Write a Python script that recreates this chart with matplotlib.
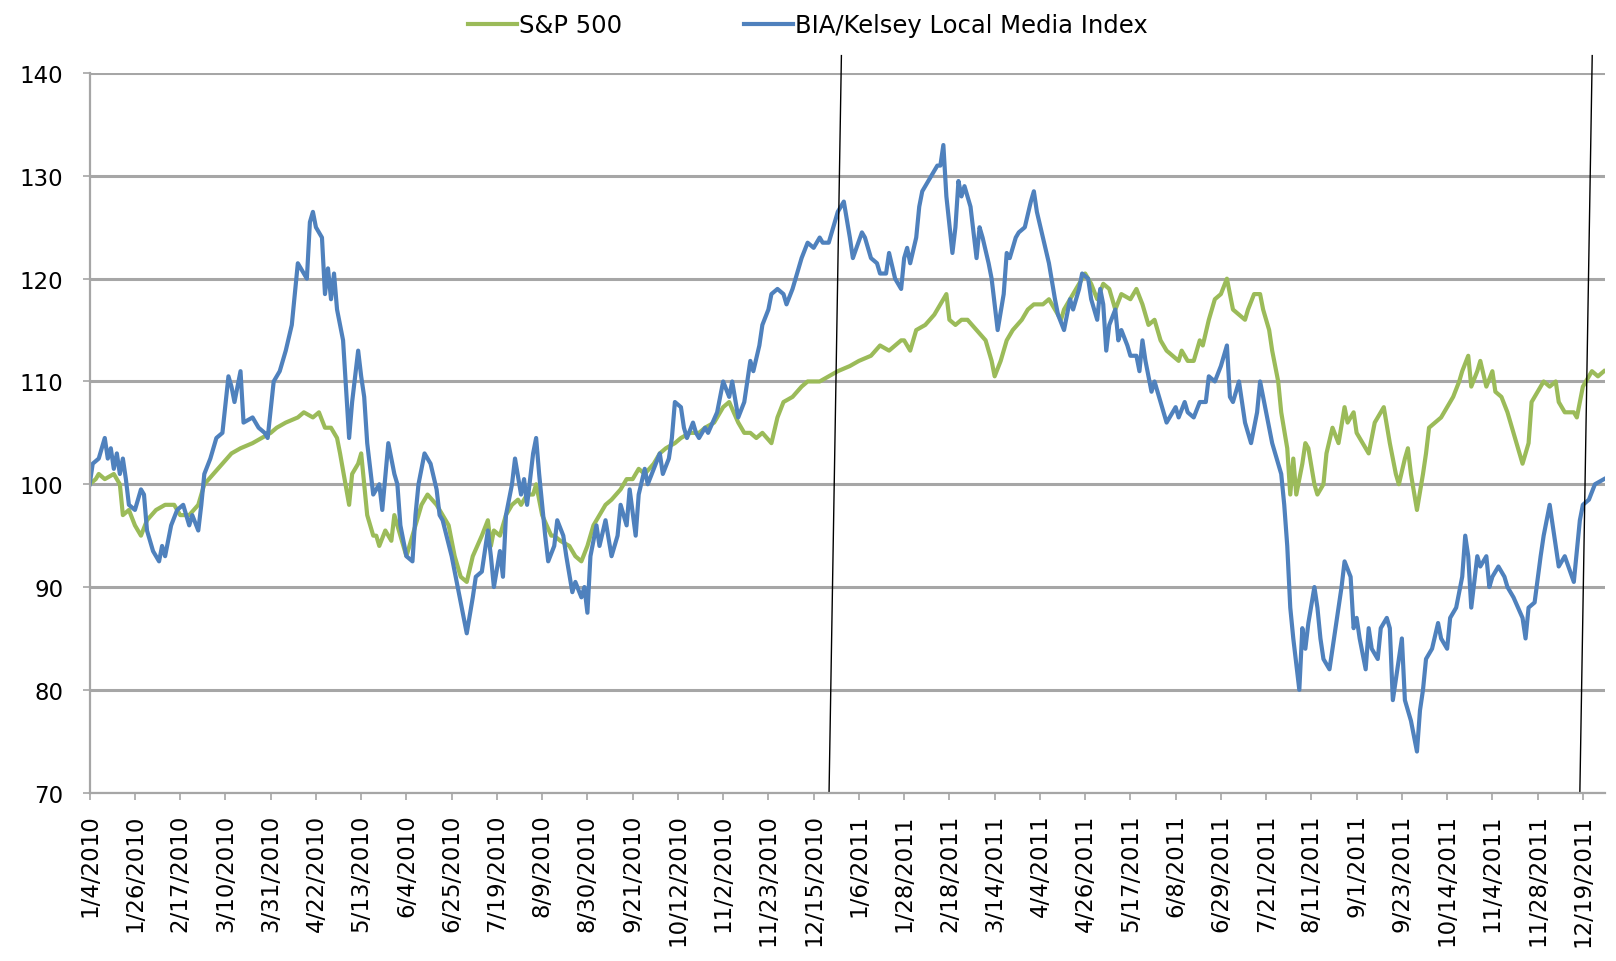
import numpy as np
import matplotlib.pyplot as plt

# trading-day index (0 = 1/4/2010) and index value
bia_day = [0, 1, 3, 5, 6, 7, 8, 9, 10, 11, 12, 13, 15, 17, 18, 19, 21, 23, 24, 25, 27, 29, 31, 33, 34, 36, 37, 38, 40, 42,
           44, 46, 47, 48, 50, 51, 54, 56, 58, 59, 61, 63, 65, 67, 69, 71, 72, 73, 74, 75, 77, 78, 79, 80, 81, 82, 84, 86,
           87, 89, 90, 91, 92, 93, 94, 96, 97, 99, 101, 102, 103, 105, 107, 108, 109, 111, 113, 115, 116, 117, 120, 122,
           124, 125, 127, 128, 130, 132, 133, 134, 136, 137, 138, 140, 141, 143, 144, 145, 147, 148, 149, 150, 151, 152,
           154, 155, 157, 158, 160, 161, 163, 164, 165, 166, 168, 169, 171, 173, 175, 176, 178, 179, 181, 182, 184, 185,
           187, 189, 190, 192, 193, 194, 196, 197, 198, 200, 201, 202, 204, 205, 208, 210, 212, 213, 215, 217, 219, 220,
           222, 223, 225, 226, 228, 230, 231, 233, 236, 238, 240, 242, 243, 245, 248, 250, 252, 253, 256, 257, 259, 261,
           262, 264, 265, 267, 269, 270, 271, 272, 274, 275, 276, 279, 281, 282, 283, 284, 286, 287, 288, 289, 290, 292,
           294, 295, 296, 298, 299, 301, 303, 304, 305, 307, 308, 310, 312, 313, 314, 316, 318, 320, 321, 323, 325, 326,
           328, 329, 331, 332, 334, 335, 336, 337, 338, 340, 341, 342, 344, 345, 347, 348, 349, 350, 352, 353, 355, 356,
           357, 360, 361, 363, 364, 366, 368, 370, 371, 373, 375, 377, 378, 379, 381, 383, 384, 385, 387, 388, 390, 392,
           394, 395, 396, 397, 398, 399, 401, 402, 403, 404, 406, 407, 408, 409, 411, 412, 413, 415, 416, 418, 419, 420,
           421, 423, 424, 425, 427, 428, 430, 431, 432, 434, 435, 436, 438, 440, 441, 442, 443, 445, 447, 448, 450, 451,
           453, 455, 456, 457, 458, 460, 461, 463, 464, 465, 467, 469, 470, 472, 475, 476, 477, 479, 481, 482, 484, 485,
           487, 489, 492, 494, 495, 497, 499, 502]
bia = [100, 102, 102.5, 104.5, 102.5, 103.5, 101.5, 103, 101, 102.5, 100.5, 98, 97.5, 99.5, 99, 95.5, 93.5, 92.5, 94, 93,
       96, 97.5, 98, 96, 97, 95.5, 98, 101, 102.5, 104.5,
       105, 110.5, 109.5, 108, 111, 106, 106.5, 105.5, 105, 104.5, 110, 111, 113, 115.5, 121.5, 120.5, 120, 125.5, 126.5,
       125, 124, 118.5, 121, 118, 120.5, 117, 114, 104.5,
       108, 113, 110.5, 108.5, 104, 101.5, 99, 100, 97.5, 104, 101, 100, 96, 93, 92.5, 97, 100, 103, 102, 99.5, 97, 96.5,
       93, 90,
       87, 85.5, 89, 91, 91.5, 95.5, 93, 90, 93.5, 91, 97, 100, 102.5, 99, 100.5, 98, 103, 104.5, 101, 98, 95, 92.5,
       94, 96.5, 95, 93, 89.5, 90.5, 89, 90, 87.5, 93, 96, 94, 96.5, 93, 95, 98, 96, 99.5, 95, 99, 101.5, 100,
       101.5, 103, 101, 102.5, 104.5, 108, 107.5, 105.5, 104.5, 106, 105, 104.5, 105.5, 105, 107, 110, 108.5, 110, 106.5,
       108, 112, 111,
       113.5, 115.5, 117, 118.5, 119, 118.5, 117.5, 119, 122, 123.5, 123, 124, 123.5, 123.5, 126.5, 127.5, 124, 122,
       124.5, 124, 122, 121.5,
       120.5, 120.5, 122.5, 120, 119, 122, 123, 121.5, 124, 127, 128.5, 130, 131, 131, 133, 128, 122.5, 125, 129.5, 128,
       129, 127,
       122, 125, 124, 121.5, 120, 115, 118.5, 122.5, 122, 124, 124.5, 125, 127.5, 128.5, 126.5, 124, 121.5, 118, 116.5,
       115, 118, 117,
       119, 120.5, 120, 118, 116, 119, 117.5, 113, 115.5, 117, 114, 115, 113.5, 112.5, 112.5, 111, 114, 112, 109, 110,
       108, 107,
       106, 107.5, 106.5, 108, 107, 106.5, 108, 108, 110.5, 110, 111.5, 113.5, 108.5, 108, 110, 106, 105, 104, 107, 110,
       107, 104,
       102, 101, 98, 94, 88, 85, 80, 86, 84, 86.5, 90, 88, 85, 83, 82, 84, 86, 90, 92.5, 91, 86, 87,
       85, 82, 86, 84, 83, 86, 87, 86, 79, 83, 85, 79, 77, 74, 78, 80, 83, 84, 86.5, 85, 84, 87,
       88, 91, 95, 93, 88, 93, 92, 93, 90, 91, 92, 91, 90, 89, 87, 85, 88, 88.5, 93, 95, 98, 96,
       92, 93, 90.5, 96.5, 98, 98.5, 100, 100.5]

sp_day = [0, 2, 3, 5, 8, 10, 11, 13, 15, 17, 19, 22, 25, 28, 30, 33, 36, 38, 41, 44, 47, 50, 54, 57, 60, 62, 65, 69, 71,
          74, 76, 78, 80, 82, 83, 86, 87, 89, 90, 91, 92, 94, 95, 96, 98, 100, 101, 102, 104, 105, 108, 110, 112, 115,
          117, 119, 121, 123, 125, 127, 130, 132, 133, 134, 136, 138, 140, 142, 143, 145, 147, 148, 150, 153, 154, 156,
          159, 161, 163, 165, 167, 169, 171, 173, 176, 178, 180, 182, 184, 187, 189, 191, 194, 196, 199, 202, 204, 207,
          210, 212, 215, 217, 219, 221, 223, 226, 228, 230, 233, 236, 238, 242, 245, 248, 252, 255, 259, 262, 265, 269,
          270, 272, 274, 277, 280, 282, 284, 285, 287, 289, 291, 294, 297, 299, 300, 302, 304, 306, 309, 311, 313, 316,
          318, 320, 322, 323, 325, 328, 330, 332, 334, 336, 338, 340, 342, 345, 347, 349, 351, 353, 355, 357, 359, 361,
          362, 364, 366, 368, 369, 371, 373, 375, 377, 379, 381, 383, 384, 386, 388, 389, 391, 392, 394, 395, 397, 398,
          399, 400, 402, 403, 404, 406, 407, 409, 410, 412, 414, 416, 417, 419, 420, 422, 424, 426, 428, 429, 431, 433,
          434, 436, 437, 438, 440, 442, 443, 444, 446, 448, 450, 452, 454, 455, 457, 458, 460, 461, 463, 465, 466, 468,
          470, 471, 473, 475, 477, 478, 480, 482, 484, 486, 487, 489, 492, 493, 495, 496, 498, 500, 502]
sp500 = [100, 100.5, 101, 100.5, 101, 100, 97, 97.5, 96, 95, 96.5, 97.5, 98, 98, 97, 97, 98, 100, 101, 102, 103, 103.5,
         104, 104.5, 105, 105.5, 106, 106.5, 107,
         106.5, 107, 105.5, 105.5, 104.5, 103, 98, 101, 102, 103, 100, 97, 95, 95, 94, 95.5, 94.5, 97, 96, 94, 93, 96, 98,
         99, 98,
         97, 96, 93, 91, 90.5, 93, 95, 96.5, 94, 95.5, 95, 97, 98, 98.5, 98, 99, 99, 100, 97, 95, 95, 94.5,
         94, 93, 92.5, 94, 96, 97, 98, 98.5, 99.5, 100.5, 100.5, 101.5, 101, 102, 103, 103.5, 104, 104.5, 105, 105,
         105.5, 106,
         107.5, 108, 106, 105, 105, 104.5, 105, 104, 106.5, 108, 108.5, 109.5, 110, 110, 110.5, 111, 111.5, 112, 112.5,
         113.5, 113, 114,
         114, 113, 115, 115.5, 116.5, 117.5, 118.5, 116, 115.5, 116, 116, 115, 114, 112, 110.5, 112, 114, 115, 116, 117,
         117.5, 117.5,
         118, 117, 116, 117, 118, 119.5, 120.5, 119.5, 118, 119.5, 119, 117, 118.5, 118, 119, 117.5, 115.5, 116, 114, 113,
         112.5, 112,
         113, 112, 112, 114, 113.5, 116, 118, 118.5, 120, 117, 116.5, 116, 117, 118.5, 118.5, 117, 115, 113, 110, 107,
         103.5, 99,
         102.5, 99, 102, 104, 103.5, 100, 99, 100, 103, 105.5, 104, 107.5, 106, 107, 105, 104, 103, 106, 107, 107.5, 104,
         101,
         100, 102.5, 103.5, 101, 97.5, 101, 103, 105.5, 106, 106.5, 107.5, 108.5, 110, 111, 112.5, 109.5, 111, 112,
         109.5, 111, 109, 108.5,
         107, 106, 104, 102, 104, 108, 109, 110, 109.5, 110, 108, 107, 107, 106.5, 109.5, 110, 111, 110.5, 111]

tick_labels = ["1/4/2010", "1/26/2010", "2/17/2010", "3/10/2010", "3/31/2010", "4/22/2010", "5/13/2010",
               "6/4/2010", "6/25/2010", "7/19/2010", "8/9/2010", "8/30/2010", "9/21/2010", "10/12/2010",
               "11/2/2010", "11/23/2010", "12/15/2010", "1/6/2011", "1/28/2011", "2/18/2011", "3/14/2011",
               "4/4/2011", "4/26/2011", "5/17/2011", "6/8/2011", "6/29/2011", "7/21/2011", "8/11/2011",
               "9/1/2011", "9/23/2011", "10/14/2011", "11/4/2011", "11/28/2011", "12/19/2011"]

green = "#9bbb59"
blue = "#4f81bd"
grid_c = "#a6a6a6"

fig = plt.figure(figsize=(16.16, 9.62), dpi=100)
ax = fig.add_axes([0.0555, 0.175, 0.938, 0.748])

ax.plot(sp_day, sp500, color=green, lw=3.0, label="S&P 500", solid_joinstyle="round")
ax.plot(bia_day, bia, color=blue, lw=3.0, label="BIA/Kelsey Local Media Index", solid_joinstyle="round")

ax.set_xlim(0, 502.5)
ax.set_ylim(70, 140)
ax.set_yticks(np.arange(70, 141, 10))
ax.set_xticks(np.arange(len(tick_labels)) * 15)
ax.set_xticklabels(tick_labels, rotation=90, fontsize=16.5)
ax.tick_params(axis="x", length=5, width=1.2, color=grid_c, pad=10)
ax.tick_params(axis="y", length=5, width=1.2, color=grid_c, pad=14, labelsize=16.5)

ax.yaxis.grid(True, color=grid_c, lw=2.2)
ax.set_axisbelow(True)
for s in ["top", "right"]:
    ax.spines[s].set_visible(False)
for s in ["left", "bottom"]:
    ax.spines[s].set_color(grid_c)
    ax.spines[s].set_linewidth(1.6)

# hand-drawn marker lines
ax.plot([249.2, 245.1], [141.7, 70], color="black", lw=1.0, clip_on=False)
ax.plot([498.1, 494.0], [141.7, 70], color="black", lw=1.0, clip_on=False)

fig.legend(loc="upper center", bbox_to_anchor=(0.5, 1.008), ncol=2, frameon=False, handlelength=2.0,
           columnspacing=5.0, handletextpad=0.1, prop={"size": 17.5})

fig.savefig("out.png", dpi=100)
